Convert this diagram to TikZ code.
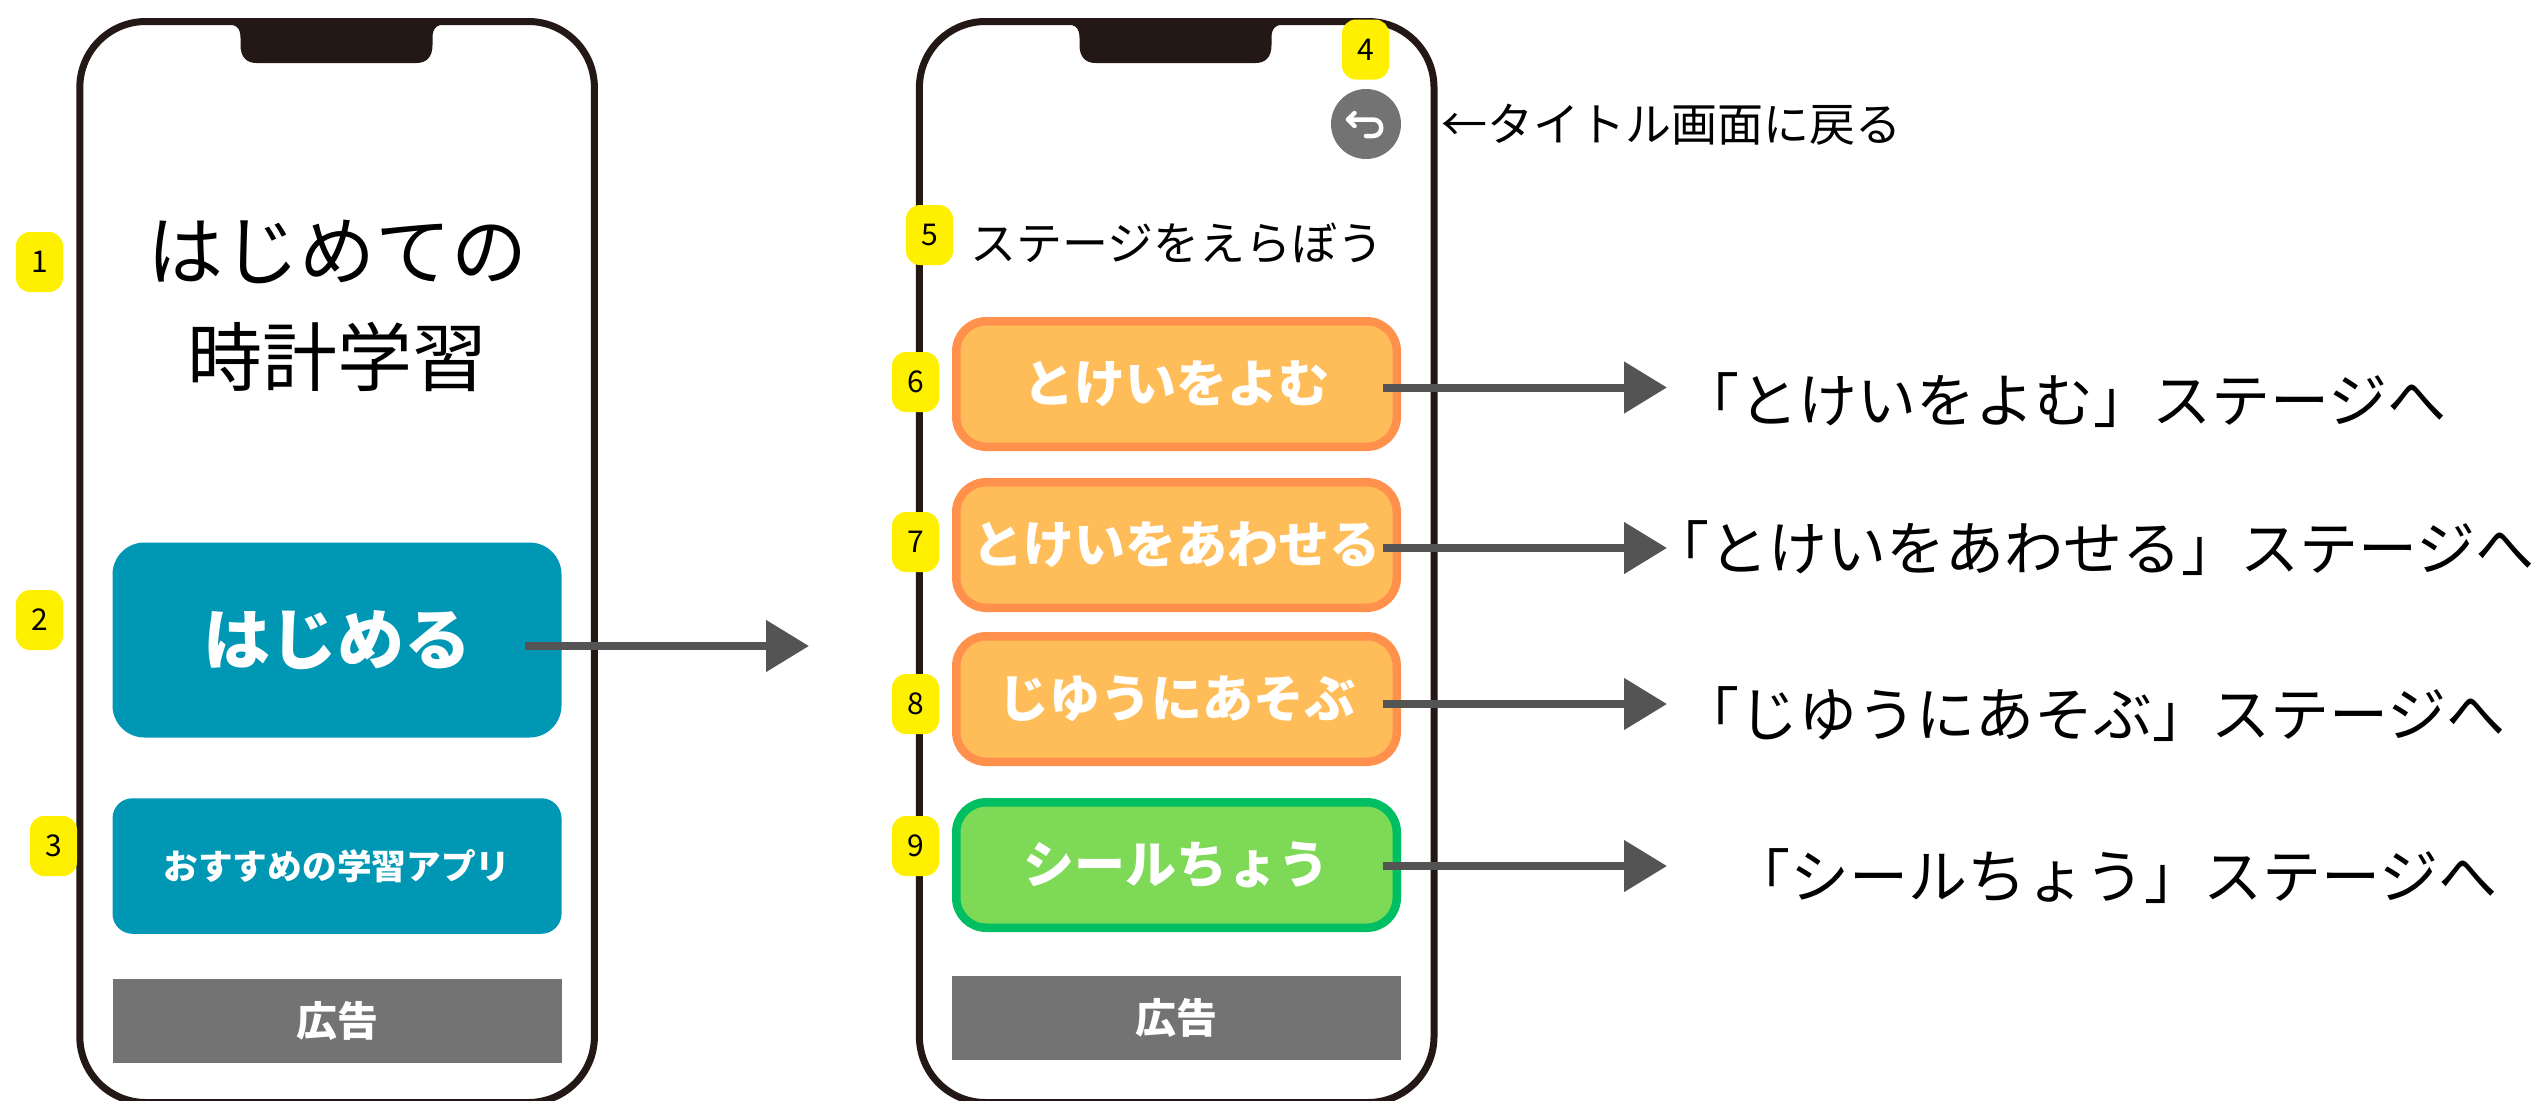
\documentclass[tikz,border=0pt]{standalone}
\usepackage{fontspec}
\usetikzlibrary{arrows.meta}
\newfontfamily\jp{Noto Sans CJK JP}
\definecolor{ink}{HTML}{231815}
\definecolor{teal}{HTML}{0097B5}
\definecolor{adgray}{HTML}{737373}
\definecolor{arrowgray}{HTML}{545454}
\definecolor{badgeyellow}{HTML}{FFF000}
\definecolor{orangefill}{HTML}{FFBD59}
\definecolor{orangeline}{HTML}{FF914D}
\definecolor{greenfill}{HTML}{7ED957}
\definecolor{greenline}{HTML}{00BF63}
\tikzset{
  phone/.style={draw=ink,line width=7pt,rounded corners=66pt,minimum width=514.6pt,minimum height=1081pt,inner sep=0pt,outer sep=0pt},
  badge/.style={fill=badgeyellow,rounded corners=14pt,minimum width=47pt,minimum height=60pt,inner sep=0pt,font=\jp\fontsize{30}{30}\selectfont,text=black},
  tealbtn/.style={fill=teal,minimum width=449pt,inner sep=0pt,text=white},
  adbar/.style={fill=adgray,minimum width=449pt,minimum height=84pt,inner sep=0pt,text=white,font=\jp\bfseries\fontsize{41}{41}\selectfont},
  stage/.style={line width=8.5pt,rounded corners=30pt,minimum width=440.5pt,minimum height=125.5pt,inner sep=0pt,outer sep=0pt,text=white,font=\jp\bfseries\fontsize{51}{51}\selectfont},
  orangebtn/.style={stage,draw=orangeline,fill=orangefill},
  greenbtn/.style={stage,draw=greenline,fill=greenfill},
  flow/.style={draw=arrowgray,line width=8pt,-{Triangle[length=43pt,width=50pt,fill=arrowgray]}},
  note/.style={inner sep=0pt,text=black,font=\jp\fontsize{59}{59}\selectfont},
  small/.style={inner sep=0pt,text=black,font=\jp\fontsize{46}{46}\selectfont},
  notch/.pic={\fill[ink] (-112,-1) -- (-112,3) .. controls (-100,3) and (-96,7) .. (-96,17) -- (-96,24)
     .. controls (-96,36) and (-90,42) .. (-80,42) -- (80,42) .. controls (90,42) and (96,36) .. (96,24) -- (96,17)
     .. controls (96,7) and (100,3) .. (112,3) -- (112,-1) -- cycle;}
}
\begin{document}
\begin{tikzpicture}[x=1pt,y=-1pt]
\useasboundingbox (0,0) rectangle (2539,1100);
\clip (0,0) rectangle (2539,1100);
\fill[white] (0,0) rectangle (2539,1100);
% phones
\node[phone] (phoneA) at (337.1,562) {};
\node[phone] (phoneB) at (1176.7,562) {};
\pic at (336.5,21) {notch};
\pic at (1175.5,21) {notch};
% left screen
\node[inner sep=0pt,align=center,text=black,font=\jp\fontsize{76}{76}\selectfont] (titleA) at (337,252) {はじめての};
\node[inner sep=0pt,text=black,font=\jp\fontsize{75}{75}\selectfont] (titleB) at (337,357) {時計学習};
\node[tealbtn,minimum height=195pt,rounded corners=32pt,font=\jp\bfseries\fontsize{67}{67}\selectfont] (start) at (337,640) {はじめる};
\node[tealbtn,minimum height=135.5pt,rounded corners=20pt,font=\jp\bfseries\fontsize{34.7}{35}\selectfont] (apps) at (337,866) {おすすめの学習アプリ};
\node[adbar] (adA) at (337.5,1020.5) {広告};
% right screen
\node[small,anchor=west] (choose) at (970,243) {ステージをえらぼう};
\node[orangebtn] (read) at (1176.5,384) {とけいをよむ};
\node[orangebtn] (set) at (1176.5,545) {とけいをあわせる};
\node[orangebtn] (free) at (1176.5,699) {じゆうにあそぶ};
\node[greenbtn] (seal) at (1176.5,865) {シールちょう};
\node[adbar] (adB) at (1176.5,1018) {広告};
\node[circle,fill=adgray,minimum size=70pt,inner sep=0pt] (back) at (1366,124) {};
\draw[white,line width=4.5pt,line cap=round,line join=round] (1366,136) -- (1373,136) .. controls (1384,136) and (1384,119.5) .. (1373,119.5) -- (1348,119.5);
\draw[white,line width=4.5pt,line cap=round,line join=round] (1354.5,113) -- (1348,119.5) -- (1354.5,126);
\node[small,anchor=west] (backnote) at (1441,125) {←タイトル画面に戻る};
% targets
\node[note,anchor=west] (toread) at (1680,400) {「とけいをよむ」ステージへ};
\node[note,anchor=west] (toset) at (1650,548) {「とけいをあわせる」ステージへ};
\node[note,anchor=west] (tofree) at (1680,714) {「じゆうにあそぶ」ステージへ};
\node[note,anchor=west] (toseal) at (1731,876) {「シールちょう」ステージへ};
% arrows
\coordinate (s0) at (525,646); \coordinate (e0) at (809,646);
\coordinate (s1) at (1383,387.5); \coordinate (e1) at (1667,387.5);
\coordinate (s2) at (1383,548); \coordinate (e2) at (1667,548);
\coordinate (s3) at (1383,704); \coordinate (e3) at (1667,704);
\coordinate (s4) at (1383,866); \coordinate (e4) at (1667,866);
\foreach \i in {0,...,4} \draw[flow] (s\i) -- (e\i);
% badges
\node[badge] (b1) at (39.5,262) {1};
\node[badge] (b2) at (39.5,620) {2};
\node[badge] (b3) at (53.5,846) {3};
\node[badge] (b4) at (1365.5,49.5) {4};
\node[badge] (b5) at (929.5,235) {5};
\node[badge] (b6) at (915.5,382) {6};
\node[badge] (b7) at (915.5,542) {7};
\node[badge] (b8) at (915.5,704) {8};
\node[badge] (b9) at (915.5,846) {9};
\end{tikzpicture}
\end{document}
